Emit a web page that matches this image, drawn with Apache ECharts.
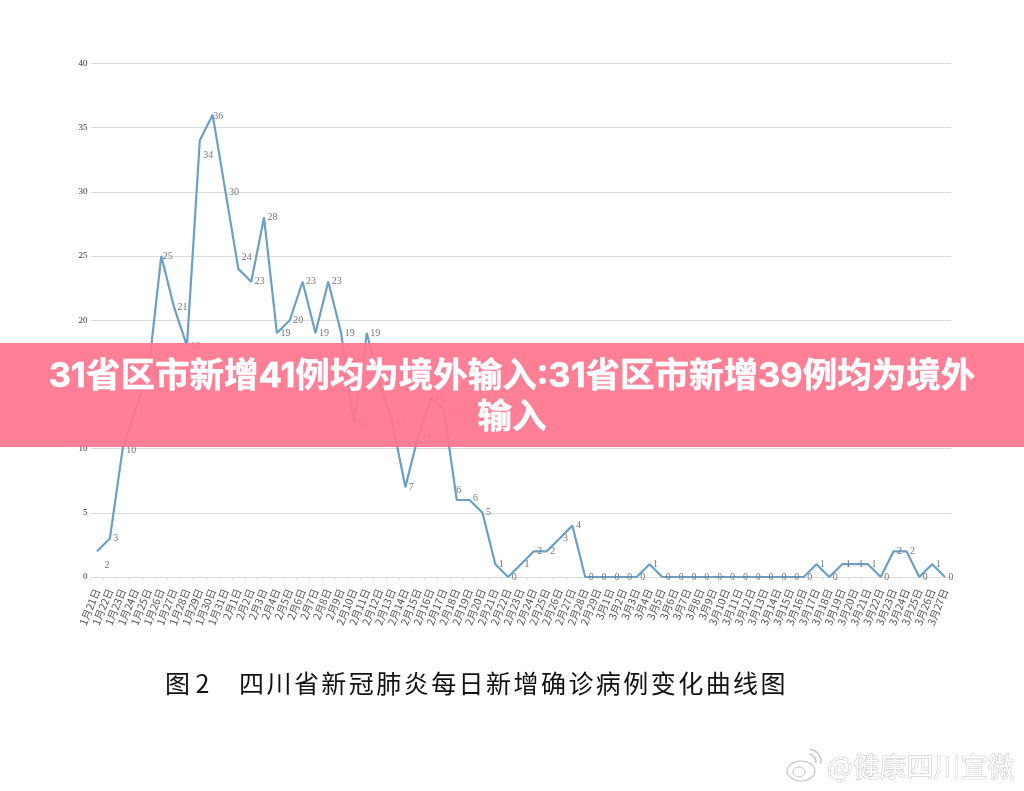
<!DOCTYPE html>
<html>
<head>
<meta charset="utf-8">
<style>html,body{margin:0;padding:0;background:#fff}#chart{width:1024px;height:791px}</style>
<script src="https://cdn.jsdelivr.net/npm/echarts@6/dist/echarts.min.js"></script>
</head>
<body>
<div id="chart"></div>
<script>
// Daily new confirmed cases, Sichuan province
const dates = ['1月21日','1月22日','1月23日','1月24日','1月25日','1月26日','1月27日','1月28日','1月29日','1月30日','1月31日',
  '2月1日','2月2日','2月3日','2月4日','2月5日','2月6日','2月7日','2月8日','2月9日','2月10日','2月11日','2月12日','2月13日','2月14日',
  '2月15日','2月16日','2月17日','2月18日','2月19日','2月20日','2月21日','2月22日','2月23日','2月24日','2月25日','2月26日','2月27日','2月28日','2月29日',
  '3月1日','3月2日','3月3日','3月4日','3月5日','3月6日','3月7日','3月8日','3月9日','3月10日','3月11日','3月12日','3月13日','3月14日','3月15日','3月16日',
  '3月17日','3月18日','3月19日','3月20日','3月21日','3月22日','3月23日','3月24日','3月25日','3月26日','3月27日'];
const newCases = [2,3,10,13,16,25,21,18,34,36,30,24,23,28,19,20,23,19,23,19,12,19,15,12,7,11,14,13,6,6,5,1,0,1,2,2,3,4,
  0,0,0,0,0,1,0,0,0,0,0,0,0,0,0,0,0,0,1,0,1,1,1,0,2,2,0,1,0];
const yTicks = [0,5,10,15,20,25,30,35,40];
const headline = ['31省区市新增41例均为境外输入:31省区市新增39例均为境外','输入'];
const captionLead = '图 2';
const captionBody = '四川省新冠肺炎每日新增确诊病例变化曲线图';
const account = '@健康四川宣微';

// Labels that sit somewhere other than just right of their point
const labelShift = {0:[4,14],2:[0,2],5:[-2,0],8:[0,15],9:[-3,2],11:[0,-12],28:[-4,-10],29:[0,-2]};

const FONT_CJK = '"Noto Sans CJK SC"';
const FONT_HEAD = '"Inter","Noto Sans CJK SC"';
const chart = echarts.init(document.getElementById('chart'), null, {renderer:'canvas'});

// The caption is set one glyph at a time for its wide tracking
const captionGlyphs = Array.from(captionBody).map((ch,i)=>({
  type:'text',z:5,
  style:{x:239+i*27.45,y:683,text:ch,fill:'#111',font:'25px '+FONT_CJK,textVerticalAlign:'middle'}
}));

chart.setOption({
  backgroundColor:'#ffffff',
  animation:false,
  grid:{left:90.6,right:72.6,top:63.5,bottom:214,containLabel:false},
  xAxis:{
    type:'category',
    data:dates,
    boundaryGap:true,
    axisLine:{lineStyle:{color:'#dcdcdc',width:1}},
    axisTick:{show:true,length:3,lineStyle:{color:'#e2e2e2'}},
    axisLabel:{interval:0,rotate:68,margin:12,fontSize:10.5,color:'#555',fontFamily:FONT_CJK}
  },
  yAxis:{
    type:'value',
    min:yTicks[0],
    max:yTicks[yTicks.length-1],
    interval:yTicks[1]-yTicks[0],
    axisLine:{show:false},
    axisTick:{show:false},
    splitLine:{lineStyle:{color:'#dcdcdc',width:1}},
    axisLabel:{margin:3,fontSize:9,color:'#333',fontFamily:'"Liberation Serif"'}
  },
  series:[{
    type:'line',
    data:newCases,
    showSymbol:true,
    showAllSymbol:true,
    symbol:'circle',
    symbolSize:1,
    itemStyle:{color:'#6c9fc6'},
    lineStyle:{color:'#6c9fc6',width:2.2},
    label:{show:true,position:'right',distance:3,fontSize:10,color:'#777',fontFamily:'"Liberation Serif"'},
    labelLayout:function(params){
      const s = labelShift[params.dataIndex] || [0,0];
      return {dx:s[0],dy:s[1]};
    },
    z:2
  }],
  graphic:[
    // Headline band across the middle of the page
    {type:'rect',z:20,shape:{x:0,y:343,width:1024,height:104},style:{fill:'rgba(255,116,142,0.92)'}},
    {type:'text',z:21,style:{x:512,y:377,text:headline[0],
      fill:'#fff',stroke:'#fff',lineWidth:0.5,font:'bold 34.5px '+FONT_HEAD,textAlign:'center',textVerticalAlign:'middle'}},
    {type:'text',z:21,style:{x:512,y:418,text:headline[1],
      fill:'#fff',stroke:'#fff',lineWidth:0.5,font:'bold 34.5px '+FONT_HEAD,textAlign:'center',textVerticalAlign:'middle'}},
    // Figure caption
    {type:'text',z:5,style:{x:165,y:683,text:captionLead,fill:'#111',font:'25px '+FONT_CJK,textVerticalAlign:'middle'}},
    ...captionGlyphs,
    // Account mark, lower right
    {type:'ellipse',z:6,shape:{cx:801,cy:771,rx:14,ry:10},style:{fill:'#fff',stroke:'#c4c4c4',lineWidth:1.2}},
    {type:'ellipse',z:6,shape:{cx:799,cy:772,rx:6,ry:5},style:{fill:'#fff',stroke:'#c4c4c4',lineWidth:1}},
    {type:'arc',z:6,shape:{cx:808,cy:762,r:8,startAngle:-1.4,endAngle:0.1},style:{fill:null,stroke:'#c4c4c4',lineWidth:1.5}},
    {type:'arc',z:6,shape:{cx:808,cy:762,r:13,startAngle:-1.4,endAngle:0.1},style:{fill:null,stroke:'#c4c4c4',lineWidth:1.5}},
    {type:'text',z:6,style:{x:827,y:767,text:account,fill:'#fff',stroke:'#c4c4c4',lineWidth:1,font:'27px '+FONT_CJK,textVerticalAlign:'middle'}}
  ]
});
</script>
</body>
</html>
